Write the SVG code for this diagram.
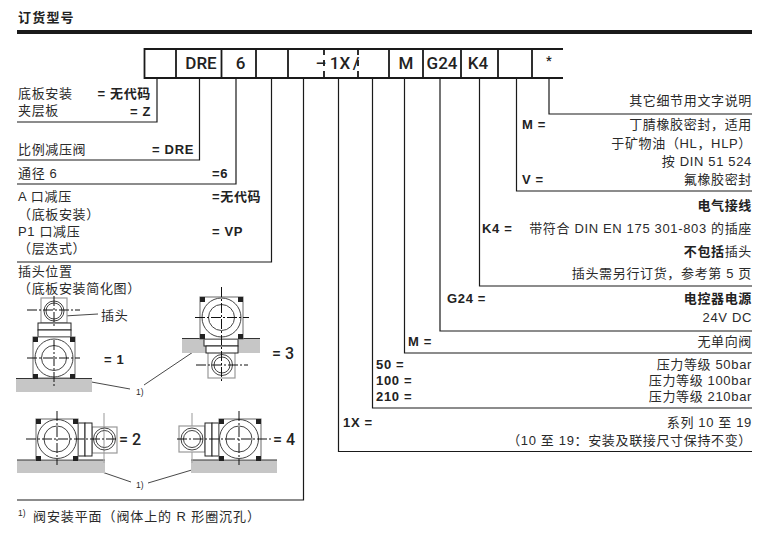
<svg xmlns="http://www.w3.org/2000/svg" width="773" height="538" viewBox="0 0 773 538">
<style>
text{font-family:"Liberation Sans","Noto Sans CJK SC",sans-serif;font-size:13px;fill:#2a2a2a;letter-spacing:.65px}
.b{font-weight:700;fill:#222}
.r{text-anchor:end}
.c{font-family:Roboto,"Liberation Sans",sans-serif;font-size:17px;font-weight:500;text-anchor:middle;letter-spacing:0;fill:#222}
.n{font-family:Roboto,"Liberation Sans",sans-serif;font-size:16px;font-weight:500;letter-spacing:0;fill:#222}
.s{font-size:8.5px;letter-spacing:0}
.box{fill:none;stroke:#1a1a1a;stroke-width:1.8}
.con{fill:none;stroke:#1a1a1a;stroke-width:1.2}
.lead{fill:none;stroke:#333;stroke-width:.9}
.plate{fill:#c6c6c6;stroke:none}
.edge{stroke:#333;stroke-width:1.1;fill:none}
.body{fill:#fff;stroke:#777;stroke-width:1.1}
.blk{fill:#fff;stroke:#222;stroke-width:1}
.pl{fill:#fff;stroke:#999;stroke-width:1.2}
.cir{fill:none;stroke:#444;stroke-width:1}
.cl{fill:none;stroke:#111;stroke-width:1;stroke-dasharray:10 2 2 2}
.gl{fill:none;stroke:#aaa;stroke-width:1.2}
.k{fill:#222}
</style>

<g id="title">
<text x="18" y="22" class="b" style="letter-spacing:1.2px">订货型号</text>
<rect x="17" y="30" width="735" height="4" fill="#1a1a1a"/>
</g>

<g id="code-box">
<path class="box" d="M563 49H144.500V78H563"/>
<path class="box" d="M176 49V78M221.500 49V78M256 49V78M288 49V78M389 49V78M423 49V78M461 49V78M498 49V78M532 49V78"/>
<path class="box" stroke-dasharray="6 5" d="M324 49V78M358 49V78"/>
<text class="c" x="201" y="69">DRE</text>
<text class="c" x="240.500" y="69">6</text>
<text class="c" x="321" y="69">–</text>
<text class="c" x="340" y="69">1X</text>
<text class="c" x="356" y="69">/</text>
<text class="c" x="406" y="69">M</text>
<text class="c" x="442" y="69">G24</text>
<text class="c" x="478" y="69">K4</text>
<text class="c" x="549" y="65" style="font-size:13px">*</text>
</g>

<g id="connectors">
<path class="con" d="M157 78V122H17"/>
<path class="con" d="M199.500 78V160H17"/>
<path class="con" d="M236 78V184H17"/>
<path class="con" d="M271.500 78V262H17"/>
<path class="con" d="M303.500 78V500H17"/>
<path class="con" d="M338.500 78V451.500H752"/>
<path class="con" d="M372.500 78V408H752"/>
<path class="con" d="M404.500 78V353H752"/>
<path class="con" d="M440 78V331H752"/>
<path class="con" d="M479.500 78V286H752"/>
<path class="con" d="M516.500 78V191H752"/>
<path class="con" d="M549 78V114H752"/>
</g>

<g id="opt-mounting">
<text x="18" y="98">底板安装</text><text x="151" y="98" class="b r">= 无代码</text>
<text x="18" y="115">夹层板</text><text x="151" y="116" class="b r">= Z</text>
</g>
<g id="opt-type">
<text x="18" y="154">比例减压阀</text><text x="194" y="154" class="b r">= DRE</text>
</g>
<g id="opt-size">
<text x="18" y="178">通径 6</text><text x="212" y="178" class="b">=6</text>
</g>
<g id="opt-function">
<text x="18" y="201">A 口减压</text><text x="212" y="201" class="b">=无代码</text>
<text x="18" y="219">（底板安装）</text>
<text x="18" y="236">P1 口减压</text><text x="212" y="236" class="b">= VP</text>
<text x="18" y="253">（层迭式）</text>
</g>

<g id="opt-plug">
<text x="18" y="276">插头位置</text>
<text x="18" y="293">（底板安装简化图）</text>
<text x="101" y="320">插头</text>
<text x="104" y="364" class="b">= 1</text>
<text x="272" y="359" class="n">= 3</text>
<text x="119" y="445" class="n">= 2</text>
<text x="273" y="445" class="n">= 4</text>
<text x="136" y="395" class="s">1)</text>
<text x="136" y="488" class="s">1)</text>
</g>

<g id="leaders">
<path class="lead" d="M64 316L98 314"/>
<path class="lead" d="M75 379L130 389"/>
<path class="lead" d="M144 385L205 344"/>
<path class="lead" d="M67 460L131 482"/>
<path class="lead" d="M148 483L222 461"/>
</g>

<g id="icon-1">
<rect class="plate" x="16" y="379" width="76" height="13"/>
<path class="edge" d="M16 378.500H92"/>
<rect class="pl" x="41" y="298" width="26" height="25"/>
<rect class="blk" x="38" y="323" width="33" height="7"/>
<rect class="blk" x="38" y="330" width="33" height="7"/>
<rect class="body" x="33" y="337" width="42" height="41"/>
<g class="k"><rect x="33" y="337" width="5" height="5"/><rect x="70" y="337" width="5" height="5"/><rect x="33" y="374" width="5" height="5"/><rect x="70" y="374" width="5" height="5"/></g>
<circle class="cir" cx="54" cy="358" r="19"/><circle class="cir" cx="54" cy="358" r="12.500"/>
<circle class="cir" cx="54" cy="311" r="10"/><circle class="cir" cx="54" cy="311" r="8"/>
<path class="cl" d="M27 358H80M54 340V386"/>
<path class="cl" d="M27 310H80M54 296V326"/>
</g>

<g id="icon-3">
<rect class="plate" x="182" y="339" width="78" height="14"/>
<path class="edge" d="M182 338.500H260"/>
<rect class="pl" x="208" y="352" width="27" height="26"/>
<rect class="blk" x="204" y="339" width="34" height="7"/>
<rect class="blk" x="206" y="346" width="32" height="7"/>
<rect class="body" x="200" y="297" width="43" height="42"/>
<g class="k"><rect x="200" y="297" width="5" height="5"/><rect x="238" y="297" width="5" height="5"/><rect x="200" y="334" width="5" height="5"/><rect x="238" y="334" width="5" height="5"/></g>
<circle class="cir" cx="221.500" cy="317.500" r="19.500"/><circle class="cir" cx="221.500" cy="317.500" r="13"/>
<circle class="cir" cx="222" cy="365" r="10.500"/><circle class="cir" cx="222" cy="365" r="8"/>
<path class="cl" d="M195 317.500H249M221.500 287V381"/>
<path class="cl" d="M196 365H248"/>
</g>

<g id="icon-2">
<rect class="plate" x="17" y="460" width="88" height="13"/>
<path class="edge" d="M17 460H105"/>
<path class="gl" d="M104 413V463"/>
<rect class="pl" x="92" y="427" width="25" height="26" fill-opacity="0"/>
<rect class="blk" x="78" y="423" width="7" height="33"/>
<rect class="blk" x="85" y="423" width="7" height="33"/>
<rect class="body" x="36" y="419" width="42" height="41"/>
<g class="k"><rect x="36" y="419" width="5" height="5"/><rect x="73" y="419" width="5" height="5"/><rect x="36" y="456" width="5" height="5"/><rect x="73" y="456" width="5" height="5"/></g>
<circle class="cir" cx="57" cy="439" r="19.500"/><circle class="cir" cx="57" cy="439" r="13"/>
<circle class="cir" cx="104.500" cy="439" r="11"/><circle class="cir" cx="104.500" cy="439" r="8.500"/>
<path class="cl" d="M26 439H118M57 411V465"/>
</g>

<g id="icon-4">
<rect class="plate" x="191" y="460" width="86" height="13"/>
<path class="edge" d="M191 460H277"/>
<path class="gl" d="M192 413V463"/>
<rect class="pl" x="179" y="426" width="26" height="26"/>
<rect class="blk" x="205" y="423" width="7" height="33"/>
<rect class="blk" x="212" y="423" width="7" height="33"/>
<rect class="body" x="219" y="419" width="42" height="41"/>
<g class="k"><rect x="219" y="419" width="5" height="5"/><rect x="256" y="419" width="5" height="5"/><rect x="219" y="456" width="5" height="5"/><rect x="256" y="456" width="5" height="5"/></g>
<circle class="cir" cx="239" cy="439" r="19.500"/><circle class="cir" cx="239" cy="439" r="13"/>
<circle class="cir" cx="192" cy="439" r="11"/><circle class="cir" cx="192" cy="439" r="8.500"/>
<path class="cl" d="M177 439H271M239 411V465"/>
</g>

<g id="footnote">
<text x="18" y="516" class="s">1)</text>
<text x="33" y="521" style="letter-spacing:.9px">阀安装平面（阀体上的 R 形圈沉孔）</text>
</g>

<g id="opt-details">
<text x="752" y="105" class="r">其它细节用文字说明</text>
</g>
<g id="opt-seal">
<text x="522" y="129" class="b">M =</text><text x="752" y="129" class="r">丁腈橡胶密封，适用</text>
<text x="752" y="148" class="r">于矿物油（HL，HLP）</text>
<text x="752" y="166" class="r">按 DIN 51 524</text>
<text x="522" y="184" class="b">V =</text><text x="752" y="184" class="r">氟橡胶密封</text>
</g>
<g id="opt-electric">
<text x="752" y="210" class="b r">电气接线</text>
<text x="482" y="233" class="b">K4 =</text><text x="752" y="233" class="r">带符合 DIN EN 175 301-803 的插座</text>
<text x="752" y="256" class="r"><tspan class="b">不包括</tspan>插头</text>
<text x="752" y="278" class="r">插头需另行订货，参考第 5 页</text>
</g>
<g id="opt-voltage">
<text x="447" y="303" class="b">G24 =</text><text x="752" y="303" class="b r">电控器电源</text>
<text x="752" y="322" class="r">24V DC</text>
</g>
<g id="opt-check">
<text x="408" y="346" class="b">M =</text><text x="752" y="346" class="r">无单向阀</text>
</g>
<g id="opt-pressure">
<text x="376" y="369" class="b">50 =</text><text x="752" y="369" class="r">压力等级 50bar</text>
<text x="376" y="385" class="b">100 =</text><text x="752" y="385" class="r">压力等级 100bar</text>
<text x="376" y="401" class="b">210 =</text><text x="752" y="401" class="r">压力等级 210bar</text>
</g>
<g id="opt-series">
<text x="343" y="427" class="b">1X =</text><text x="752" y="427" class="r">系列 10 至 19</text>
<text x="752" y="445" class="r">（10 至 19：安装及联接尺寸保持不变）</text>
</g>
</svg>
